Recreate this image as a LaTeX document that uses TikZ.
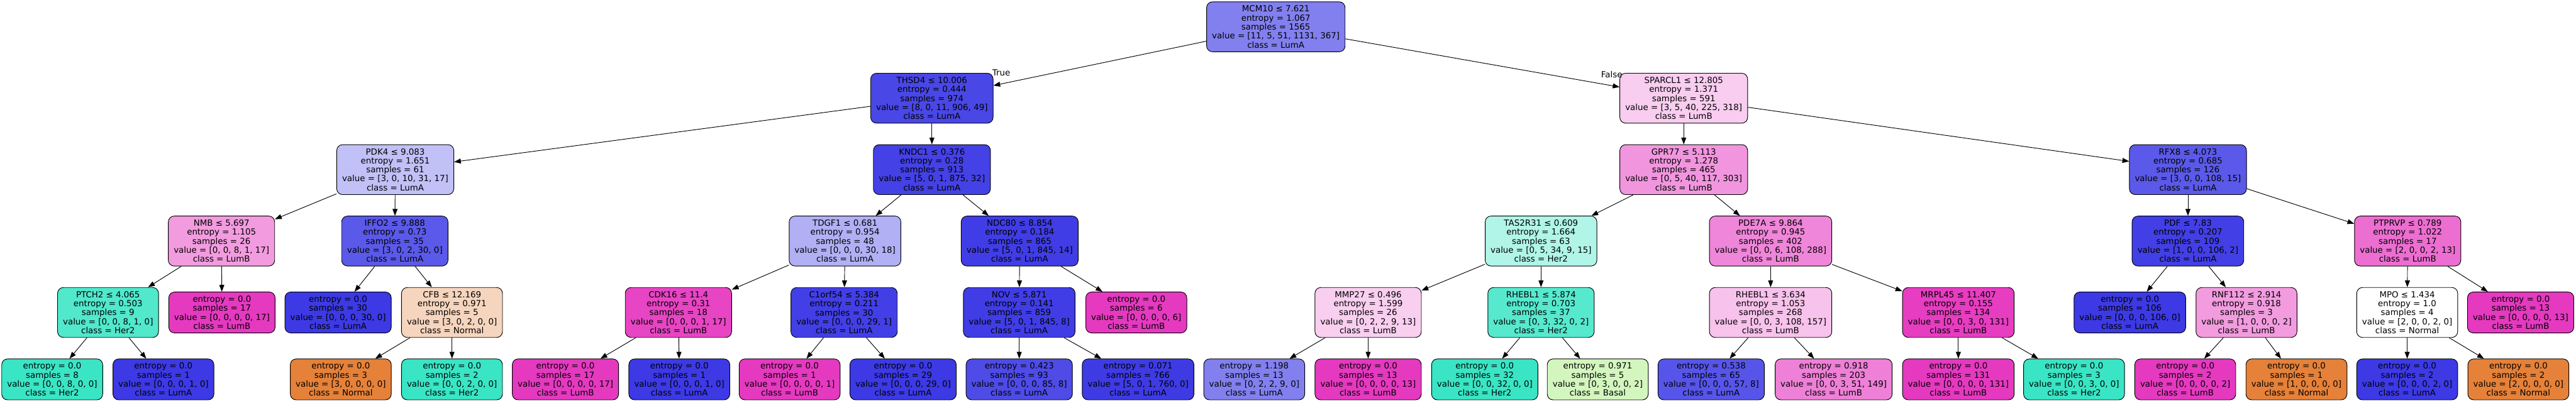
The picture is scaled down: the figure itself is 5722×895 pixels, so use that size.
\documentclass[tikz,border=0pt]{standalone}
\usepackage{fontspec}
\setmainfont{DejaVu Sans}
\usepackage{tikz}
\usetikzlibrary{arrows.meta}

\definecolor{cNormal}{HTML}{E58139}
\definecolor{cBasal}{HTML}{7BE539}
\definecolor{cHer2}{HTML}{39E5C5}
\definecolor{cLumA}{HTML}{3C39E5}
\definecolor{cLumB}{HTML}{E539C0}

\begin{document}
\begin{tikzpicture}[x=1pt,y=-1pt,
  split/.style={draw=black,line width=1.3pt,rounded corners=13pt,align=center,
    inner xsep=12pt,inner ysep=0pt,minimum height=111pt,
    font=\fontsize{18.7}{20}\selectfont},
  leaf/.style={split,minimum height=91pt},
  branch/.style={draw=black,line width=1.3pt,-{Triangle[length=15pt,width=11pt]}},
  side/.style={font=\fontsize{18.7}{20}\selectfont,inner sep=0pt}]

\useasboundingbox (0,0) rectangle (5722,895);

% level heights
\def\ya{59.5}
\def\yb{218.2}
\def\yc{376.9}
\def\yd{535.6}
\def\ye{694.3}
\def\yf{843}

\node[split,fill=cLumA!64!white] (mcm10) at (2834,\ya) {MCM10 ≤ 7.621\\entropy = 1.067\\samples = 1565\\value = [11, 5, 51, 1131, 367]\\class = LumA};

\node[split,fill=cLumA!93!white] (thsd4) at (2070,\yb) {THSD4 ≤ 10.006\\entropy = 0.444\\samples = 974\\value = [8, 0, 11, 906, 49]\\class = LumA};
\node[split,fill=cLumB!25!white] (sparcl1) at (3740,\yb) {SPARCL1 ≤ 12.805\\entropy = 1.371\\samples = 591\\value = [3, 5, 40, 225, 318]\\class = LumB};

\node[split,fill=cLumA!32!white] (pdk4) at (878,\yc) {PDK4 ≤ 9.083\\entropy = 1.651\\samples = 61\\value = [3, 0, 10, 31, 17]\\class = LumA};
\node[split,fill=cLumA!96!white] (kndc1) at (2070,\yc) {KNDC1 ≤ 0.376\\entropy = 0.28\\samples = 913\\value = [5, 0, 1, 875, 32]\\class = LumA};
\node[split,fill=cLumB!53!white] (gpr77) at (3740,\yc) {GPR77 ≤ 5.113\\entropy = 1.278\\samples = 465\\value = [0, 5, 40, 117, 303]\\class = LumB};
\node[split,fill=cLumA!84!white] (rfx8) at (4860,\yc) {RFX8 ≤ 4.073\\entropy = 0.685\\samples = 126\\value = [3, 0, 0, 108, 15]\\class = LumA};

\node[split,fill=cLumB!50!white] (nmb) at (492,\yd) {NMB ≤ 5.697\\entropy = 1.105\\samples = 26\\value = [0, 0, 8, 1, 17]\\class = LumB};
\node[split,fill=cLumA!84!white] (iffo2) at (877,\yd) {IFFO2 ≤ 9.888\\entropy = 0.73\\samples = 35\\value = [3, 0, 2, 30, 0]\\class = LumA};
\node[split,fill=cLumA!40!white] (tdgf1) at (1877,\yd) {TDGF1 ≤ 0.681\\entropy = 0.954\\samples = 48\\value = [0, 0, 0, 30, 18]\\class = LumA};
\node[split,fill=cLumA!98!white] (ndc80) at (2265,\yd) {NDC80 ≤ 8.854\\entropy = 0.184\\samples = 865\\value = [5, 0, 1, 845, 14]\\class = LumA};
\node[split,fill=cHer2!40!white] (tas2r31) at (3423,\yd) {TAS2R31 ≤ 0.609\\entropy = 1.664\\samples = 63\\value = [0, 5, 34, 9, 15]\\class = Her2};
\node[split,fill=cLumB!61!white] (pde7a) at (3933,\yd) {PDE7A ≤ 9.864\\entropy = 0.945\\samples = 402\\value = [0, 0, 6, 108, 288]\\class = LumB};
\node[split,fill=cLumA!97!white] (pdf) at (4860,\yd) {PDF ≤ 7.83\\entropy = 0.207\\samples = 109\\value = [1, 0, 0, 106, 2]\\class = LumA};
\node[split,fill=cLumB!73!white] (ptprvp) at (5348,\yd) {PTPRVP ≤ 0.789\\entropy = 1.022\\samples = 17\\value = [2, 0, 0, 2, 13]\\class = LumB};

\node[split,fill=cHer2!88!white] (ptch2) at (240,\ye) {PTCH2 ≤ 4.065\\entropy = 0.503\\samples = 9\\value = [0, 0, 8, 1, 0]\\class = Her2};
\node[leaf,fill=cLumB] (nmbR) at (493,\ye) {entropy = 0.0\\samples = 17\\value = [0, 0, 0, 0, 17]\\class = LumB};
\node[leaf,fill=cLumA] (iffo2L) at (751,\ye) {entropy = 0.0\\samples = 30\\value = [0, 0, 0, 30, 0]\\class = LumA};
\node[split,fill=cNormal!33!white] (cfb) at (1004,\ye) {CFB ≤ 12.169\\entropy = 0.971\\samples = 5\\value = [3, 0, 2, 0, 0]\\class = Normal};
\node[split,fill=cLumB!94!white] (cdk16) at (1507,\ye) {CDK16 ≤ 11.4\\entropy = 0.31\\samples = 18\\value = [0, 0, 0, 1, 17]\\class = LumB};
\node[split,fill=cLumA!97!white] (c1orf54) at (1875,\ye) {C1orf54 ≤ 5.384\\entropy = 0.211\\samples = 30\\value = [0, 0, 0, 29, 1]\\class = LumA};
\node[split,fill=cLumA!98!white] (nov) at (2264,\ye) {NOV ≤ 5.871\\entropy = 0.141\\samples = 859\\value = [5, 0, 1, 845, 8]\\class = LumA};
\node[leaf,fill=cLumB] (ndc80R) at (2524,\ye) {entropy = 0.0\\samples = 6\\value = [0, 0, 0, 0, 6]\\class = LumB};
\node[split,fill=cLumB!24!white] (mmp27) at (3039,\ye) {MMP27 ≤ 0.496\\entropy = 1.599\\samples = 26\\value = [0, 2, 2, 9, 13]\\class = LumB};
\node[split,fill=cHer2!85!white] (rhebla) at (3423,\ye) {RHEBL1 ≤ 5.874\\entropy = 0.703\\samples = 37\\value = [0, 3, 32, 0, 2]\\class = Her2};
\node[split,fill=cLumB!31!white] (rheblb) at (3933,\ye) {RHEBL1 ≤ 3.634\\entropy = 1.053\\samples = 268\\value = [0, 0, 3, 108, 157]\\class = LumB};
\node[split,fill=cLumB!98!white] (mrpl45) at (4350,\ye) {MRPL45 ≤ 11.407\\entropy = 0.155\\samples = 134\\value = [0, 0, 3, 0, 131]\\class = LumB};
\node[leaf,fill=cLumA] (pdfL) at (4731,\ye) {entropy = 0.0\\samples = 106\\value = [0, 0, 0, 106, 0]\\class = LumA};
\node[split,fill=cLumB!50!white] (rnf112) at (4990,\ye) {RNF112 ≤ 2.914\\entropy = 0.918\\samples = 3\\value = [1, 0, 0, 0, 2]\\class = LumB};
\node[split,fill=white] (mpo) at (5347,\ye) {MPO ≤ 1.434\\entropy = 1.0\\samples = 4\\value = [2, 0, 0, 2, 0]\\class = Normal};
\node[leaf,fill=cLumB] (ptprvpR) at (5599,\ye) {entropy = 0.0\\samples = 13\\value = [0, 0, 0, 0, 13]\\class = LumB};

\node[leaf,fill=cHer2] (ptch2L) at (116,\yf) {entropy = 0.0\\samples = 8\\value = [0, 0, 8, 0, 0]\\class = Her2};
\node[leaf,fill=cLumA] (ptch2R) at (363,\yf) {entropy = 0.0\\samples = 1\\value = [0, 0, 0, 1, 0]\\class = LumA};
\node[leaf,fill=cNormal] (cfbL) at (757,\yf) {entropy = 0.0\\samples = 3\\value = [3, 0, 0, 0, 0]\\class = Normal};
\node[leaf,fill=cHer2] (cfbR) at (1004,\yf) {entropy = 0.0\\samples = 2\\value = [0, 0, 2, 0, 0]\\class = Her2};
\node[leaf,fill=cLumB] (cdk16L) at (1256,\yf) {entropy = 0.0\\samples = 17\\value = [0, 0, 0, 0, 17]\\class = LumB};
\node[leaf,fill=cLumA] (cdk16R) at (1509,\yf) {entropy = 0.0\\samples = 1\\value = [0, 0, 0, 1, 0]\\class = LumA};
\node[leaf,fill=cLumB] (c1orf54L) at (1754,\yf) {entropy = 0.0\\samples = 1\\value = [0, 0, 0, 0, 1]\\class = LumB};
\node[leaf,fill=cLumA] (c1orf54R) at (2006,\yf) {entropy = 0.0\\samples = 29\\value = [0, 0, 0, 29, 0]\\class = LumA};
\node[leaf,fill=cLumA!91!white] (novL) at (2264,\yf) {entropy = 0.423\\samples = 93\\value = [0, 0, 0, 85, 8]\\class = LumA};
\node[leaf,fill=cLumA!99!white] (novR) at (2528,\yf) {entropy = 0.071\\samples = 766\\value = [5, 0, 1, 760, 0]\\class = LumA};
\node[leaf,fill=cLumA!64!white] (mmp27L) at (2786,\yf) {entropy = 1.198\\samples = 13\\value = [0, 2, 2, 9, 0]\\class = LumA};
\node[leaf,fill=cLumB] (mmp27R) at (3039,\yf) {entropy = 0.0\\samples = 13\\value = [0, 0, 0, 0, 13]\\class = LumB};
\node[leaf,fill=cHer2] (rheblaL) at (3298,\yf) {entropy = 0.0\\samples = 32\\value = [0, 0, 32, 0, 0]\\class = Her2};
\node[leaf,fill=cBasal!33!white] (rheblaR) at (3549,\yf) {entropy = 0.971\\samples = 5\\value = [0, 3, 0, 0, 2]\\class = Basal};
\node[leaf,fill=cLumA!86!white] (rheblbL) at (3801,\yf) {entropy = 0.538\\samples = 65\\value = [0, 0, 0, 57, 8]\\class = LumA};
\node[leaf,fill=cLumB!64!white] (rheblbR) at (4073,\yf) {entropy = 0.918\\samples = 203\\value = [0, 0, 3, 51, 149]\\class = LumB};
\node[leaf,fill=cLumB] (mrpl45L) at (4350,\yf) {entropy = 0.0\\samples = 131\\value = [0, 0, 0, 0, 131]\\class = LumB};
\node[leaf,fill=cHer2] (mrpl45R) at (4607,\yf) {entropy = 0.0\\samples = 3\\value = [0, 0, 3, 0, 0]\\class = Her2};
\node[leaf,fill=cLumB] (rnf112L) at (4854,\yf) {entropy = 0.0\\samples = 2\\value = [0, 0, 0, 0, 2]\\class = LumB};
\node[leaf,fill=cNormal] (rnf112R) at (5101,\yf) {entropy = 0.0\\samples = 1\\value = [1, 0, 0, 0, 0]\\class = Normal};
\node[leaf,fill=cLumA] (mpoL) at (5347,\yf) {entropy = 0.0\\samples = 2\\value = [0, 0, 0, 2, 0]\\class = LumA};
\node[leaf,fill=cNormal] (mpoR) at (5594,\yf) {entropy = 0.0\\samples = 2\\value = [2, 0, 0, 0, 0]\\class = Normal};

% edges
\foreach \a/\b in {mcm10/thsd4,mcm10/sparcl1,thsd4/pdk4,thsd4/kndc1,sparcl1/gpr77,sparcl1/rfx8,
  pdk4/nmb,pdk4/iffo2,kndc1/tdgf1,kndc1/ndc80,gpr77/tas2r31,gpr77/pde7a,rfx8/pdf,rfx8/ptprvp,
  nmb/ptch2,nmb/nmbR,iffo2/iffo2L,iffo2/cfb,tdgf1/cdk16,tdgf1/c1orf54,ndc80/nov,ndc80/ndc80R,
  tas2r31/mmp27,tas2r31/rhebla,pde7a/rheblb,pde7a/mrpl45,pdf/pdfL,pdf/rnf112,ptprvp/mpo,ptprvp/ptprvpR,
  ptch2/ptch2L,ptch2/ptch2R,cfb/cfbL,cfb/cfbR,cdk16/cdk16L,cdk16/cdk16R,c1orf54/c1orf54L,c1orf54/c1orf54R,
  nov/novL,nov/novR,mmp27/mmp27L,mmp27/mmp27R,rhebla/rheblaL,rhebla/rheblaR,rheblb/rheblbL,rheblb/rheblbR,
  mrpl45/mrpl45L,mrpl45/mrpl45R,rnf112/rnf112L,rnf112/rnf112R,mpo/mpoL,mpo/mpoR}
  \draw[branch] (\a) -- (\b);

\node[side] (lblTrue) at (2224,162) {True};
\node[side] (lblFalse) at (3580,165) {False};

\end{tikzpicture}
\end{document}
